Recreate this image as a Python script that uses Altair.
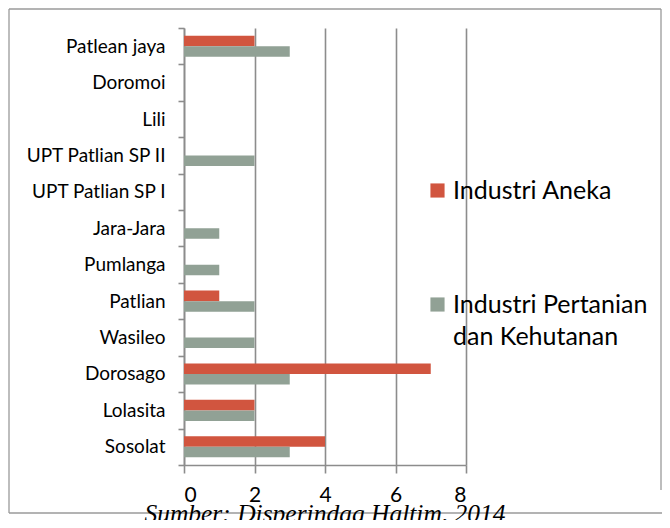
import altair as alt
import pandas as pd

categories = ["Patlean jaya", "Doromoi", "Lili", "UPT Patlian SP II", "UPT Patlian SP I",
              "Jara-Jara", "Pumlanga", "Patlian", "Wasileo", "Dorosago", "Lolasita", "Sosolat"]
series = ["Industri Aneka", "Industri Pertanian dan Kehutanan"]
aneka = [2, 0, 0, 0, 0, 0, 0, 1, 0, 7, 2, 4]
pertanian = [3, 0, 0, 2, 0, 1, 1, 2, 2, 3, 2, 3]
x_ticks = [0, 2, 4, 6, 8]
colors = ["#D1553F", "#91A195"]
source = "Sumber: Disperindag Haltim, 2014"

rows = []
for c, a, p in zip(categories, aneka, pertanian):
    rows.append({"Desa": c, "Jenis": series[0], "Jumlah": a})
    rows.append({"Desa": c, "Jenis": series[1], "Jumlah": p})
df = pd.DataFrame(rows)

FONT = "Lato"
GRID = "#8c8c8c"

bars = alt.Chart(df).mark_bar().encode(
    x=alt.X("Jumlah:Q", scale=alt.Scale(domain=[0, 8], nice=False),
            axis=alt.Axis(values=x_ticks, title=None, grid=True, gridColor=GRID, gridWidth=1.6,
                          domainColor=GRID, domainWidth=1.6, tickColor=GRID, tickWidth=1.6,
                          tickSize=8, labelFontSize=21, labelFont=FONT, labelColor="black",
                          labelPadding=11)),
    y=alt.Y("Desa:N", sort=categories, scale=alt.Scale(paddingInner=0, paddingOuter=0),
            axis=alt.Axis(title=None, tickBand="extent", grid=False, domainColor=GRID,
                          domainWidth=1.6, tickColor=GRID, tickWidth=1.6, tickSize=6,
                          labelFontSize=19, labelFont=FONT, labelColor="black",
                          labelPadding=13)),
    yOffset=alt.YOffset("Jenis:N", sort=series, scale=alt.Scale(paddingInner=0, paddingOuter=0.73)),
    color=alt.Color("Jenis:N", sort=series, scale=alt.Scale(domain=series, range=colors),
                    legend=alt.Legend(title=None, orient="none", legendX=241, legendY=150,
                                      symbolType="square", symbolSize=200, symbolStrokeWidth=0,
                                      labelFontSize=25, labelFont=FONT, labelColor="black",
                                      labelLimit=400, rowPadding=88, labelOffset=3,
                                      labelExpr="datum.label == 'Industri Pertanian dan Kehutanan' ? ['Industri Pertanian', 'dan Kehutanan'] : datum.label")),
)

one = pd.DataFrame({"f": [1]})
FRAME = "#9a9a9a"
frame_top = alt.Chart(one).mark_rule(color=FRAME, strokeWidth=1.3).encode(
    x=alt.value(-175), x2=alt.value(477), y=alt.value(-19))
frame_bottom = alt.Chart(one).mark_rule(color=FRAME, strokeWidth=1.3).encode(
    x=alt.value(-175), x2=alt.value(478), y=alt.value(485))
frame_left = alt.Chart(one).mark_rule(color=FRAME, strokeWidth=1.3).encode(
    x=alt.value(-175), y=alt.value(-19), y2=alt.value(485))
frame_right = alt.Chart(one).mark_rule(color=FRAME, strokeWidth=1.3).encode(
    x=alt.value(477), y=alt.value(-19), y2=alt.value(462))

chart = alt.layer(frame_top, frame_bottom, frame_left, frame_right, bars).properties(
    width=282, height=437,
    autosize=alt.AutoSizeParams(type="none"),
    padding={"left": 176, "top": 20, "right": 196, "bottom": 55},
    title=alt.TitleParams(source, orient="bottom", anchor="middle", font="Liberation Serif",
                          fontStyle="italic", fontWeight="normal", fontSize=25.5, color="black",
                          offset=-12),
).configure(
    style={"guide-label": {"lineHeight": 32}}
).configure_view(stroke=None)

chart.save("out.html", embed_options={"renderer": "svg", "actions": False})
